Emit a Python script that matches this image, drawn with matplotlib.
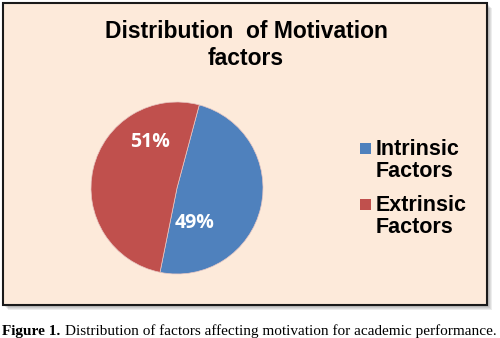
import matplotlib.pyplot as plt
from matplotlib.patches import Rectangle

# data
labels = ['Intrinsic\nFactors', 'Extrinsic\nFactors']
shares = [49, 51]
colors = ['#4F81BD', '#C0504D']
title = 'Distribution  of Motivation\nfactors'

W, H = 500, 338
fig = plt.figure(figsize=(W / 100, H / 100), dpi=100, facecolor='white')


def px(x, y):
    # pixel coords (top-left origin) -> figure fraction
    return x / W, 1 - y / H


# chart area with drop shadow
x0, y0, x1, y1 = 3, 3, 487, 305
for k in range(1, 6):
    fig.patches.append(Rectangle(px(x0 + k, y1 + k), (x1 - x0) / W, (y1 - y0) / H,
                                 transform=fig.transFigure, facecolor='black',
                                 edgecolor='none', alpha=0.07, zorder=0))
fig.patches.append(Rectangle(px(x0, y1), (x1 - x0) / W, (y1 - y0) / H,
                             transform=fig.transFigure, facecolor='#FDEADA',
                             edgecolor='#1a1a1a', linewidth=1.5, zorder=1))

# pie
cx, cy, r = 177, 188, 86
ax = fig.add_axes([(cx - r) / W, (H - cy - r) / H, 2 * r / W, 2 * r / H])
ax.set_zorder(2)
wedges, _, autotexts = ax.pie(shares, colors=colors, startangle=75, counterclock=False,
                              autopct='%d%%', radius=1,
                              wedgeprops=dict(linewidth=0.5, edgecolor='#E8C8C4'),
                              textprops=dict(color='white', fontsize=14, fontweight='bold',
                                             family='Open Sans'))
ax.set_xlim(-1, 1)
ax.set_ylim(-1, 1)
ax.set_aspect('equal')
ax.axis('off')
# label spots inside the slices
autotexts[0].set_position((0.21, -0.41))
autotexts[1].set_position((-0.31, 0.53))

fig.text(246 / W, 1 - 45 / H, title, ha='center', va='center', fontsize=16.5,
         fontweight='bold', family='Liberation Sans', linespacing=1.2, zorder=3)

# legend: square key next to the first line of each label
for i, (lab, col) in enumerate(zip(labels, colors)):
    top = 143 + i * 56
    fig.patches.append(Rectangle(px(360, top + 10.5), 10.5 / W, 10.5 / H,
                                 transform=fig.transFigure, facecolor=col,
                                 edgecolor='none', zorder=3))
    fig.text(376 / W, 1 - (top - 4) / H, lab, ha='left', va='top', fontsize=15.5,
             fontweight='bold', family='Liberation Sans', linespacing=1.07, zorder=3)

# caption under the chart
fig.text(2 / W, 1 - 335 / H, 'Figure 1.', family='Liberation Serif', fontweight='bold',
         fontsize=11, va='baseline', ha='left')
fig.text(65 / W, 1 - 335 / H,
         'Distribution of factors affecting motivation for academic performance.',
         family='Liberation Serif', fontsize=11, va='baseline', ha='left')

fig.savefig('out.png', dpi=100, facecolor='white')
